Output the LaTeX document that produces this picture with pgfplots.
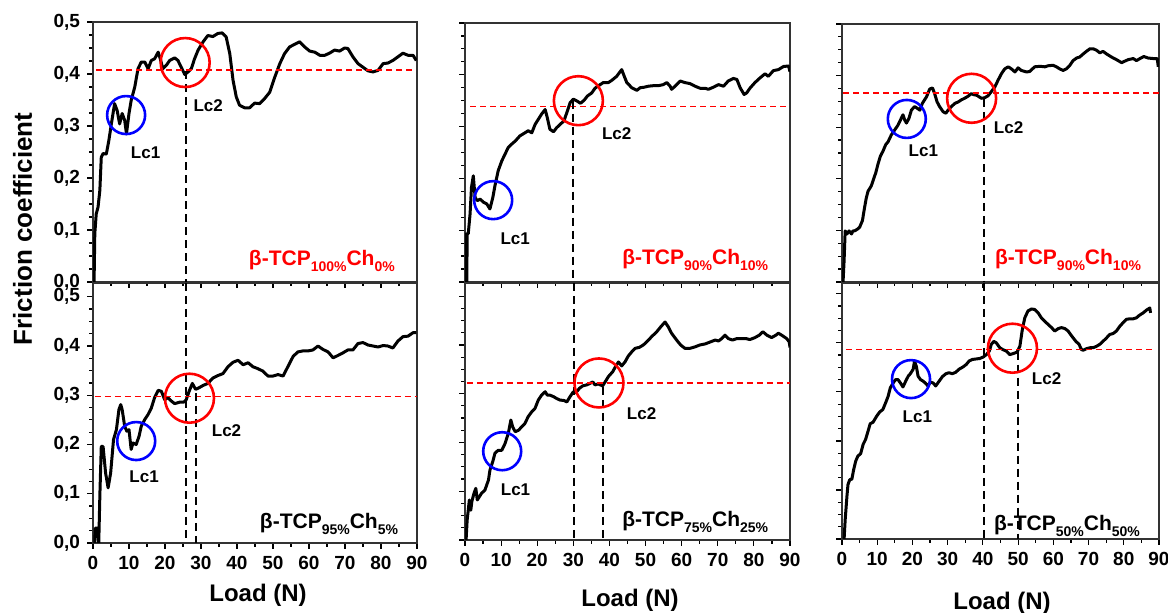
\documentclass[border=0pt]{standalone}
\usepackage{fontspec}
\setmainfont{Liberation Sans}
\usepackage{pgfplots}
\pgfplotsset{compat=1.18}

\newcommand\sub[1]{\raisebox{-3pt}{\fontsize{7}{8}\selectfont\bfseries #1}}

\pgfplotsset{
  panel/.style={
    scale only axis, anchor=south west,
    xmin=0, xmax=90, ymin=0,
    xtick={0,10,...,90}, ytick={0,0.1,0.2,0.3,0.4,0.5},
    minor x tick num=1, minor y tick num=3,
    tick align=outside, xtick pos=left, ytick pos=left,
    major tick length=3pt, minor tick length=1.8pt,
    tick style={black, line width=0.6pt},
    axis line style={black!80, line width=0.7pt},
    ticklabel style={font=\bfseries\fontsize{9.5}{11}\selectfont},
    /pgf/number format/assume math mode=true,
    xticklabels={}, yticklabels={},
  },
  ylab/.style={yticklabels={{0,0},{0,1},{0,2},{0,3},{0,4},{0,5}}},
  xlab/.style={xticklabels={0,10,20,30,40,50,60,70,80,90}},
  curve/.style={black, line width=1.5pt, line join=round},
  refl/.style={red, line width=0.75pt, dash pattern=on 3pt off 2pt},
  lcl/.style={black, line width=1pt, dash pattern=on 4pt off 2.5pt},
  bc/.style={only marks, mark=o, mark size=9.5pt, blue, mark options={line width=1.3pt}},
  rc/.style={only marks, mark=o, mark size=12.25pt, red, mark options={line width=1.3pt}},
}
\tikzset{
  lbl/.style={font=\bfseries\fontsize{8.5}{10}\selectfont},
  leg/.style={anchor=base east, font=\bfseries\fontsize{10.5}{12}\selectfont},
}

\begin{document}
\begin{tikzpicture}
\useasboundingbox (0,0) rectangle (584pt,306.5pt);

% ---------- top left: 100/0
\begin{axis}[panel, ylab, at={(46.5pt,165.5pt)}, width=162pt, height=130pt, ymax=0.5]
\addplot[curve] coordinates {
(0.3,0) (0.5,0.093) (0.9,0.131) (1.4,0.144) (1.9,0.176) (2.3,0.24) (2.8,0.247) (3.7,0.246) (4.4,0.272) (5.1,0.304) (6.0,0.343) (6.7,0.33) (7.4,0.304) (8.1,0.324) (8.8,0.311) (9.3,0.285) (10,0.324) (10.6,0.349) (11.6,0.375) (12.5,0.41) (13.4,0.423) (14.4,0.423) (15.3,0.41) (16.2,0.426) (17.1,0.429) (18.1,0.442) (18.7,0.429) (19.4,0.41) (20.4,0.417) (21.3,0.426) (22.7,0.431) (23.6,0.426) (24.5,0.413) (25.5,0.399) (26.4,0.404) (27.3,0.41) (28.2,0.429) (29.2,0.446) (30.6,0.462) (31.9,0.474) (33.3,0.472) (34.7,0.478) (35.9,0.479) (37,0.471) (38,0.439) (38.9,0.388) (39.8,0.356) (40.7,0.34) (42.1,0.335) (43.5,0.335) (44.9,0.344) (46.3,0.343) (47.7,0.353) (49.1,0.365) (50.5,0.394) (51.9,0.42) (53.2,0.439) (54.6,0.452) (56,0.457) (57.4,0.462) (58.8,0.452) (60.2,0.444) (61.6,0.442) (63,0.436) (64.4,0.436) (65.7,0.44) (67.1,0.446) (68.5,0.444) (69.9,0.45) (70.8,0.449) (72.2,0.433) (73.6,0.42) (75,0.413) (76.4,0.406) (77.8,0.404) (79.2,0.407) (80.6,0.42) (81.9,0.421) (83.3,0.426) (84.7,0.433) (86.1,0.44) (87.5,0.436) (88.9,0.436) (89.8,0.426)
};
\addplot[refl] coordinates {(0.9,0.408) (88.5,0.408)};
\addplot[lcl] coordinates {(25.7,0.405) (25.7,0)};
\addplot[bc] coordinates {(9.2,0.321)};
\addplot[rc] coordinates {(25.6,0.422)};
\node[lbl] at (axis cs:14.6,0.249) {Lc1};
\node[lbl] at (axis cs:32,0.34) {Lc2};
\node[leg, red] at (axis cs:85.8,0.031) {β-TCP\sub{100\%}Ch\sub{0\%}};
\end{axis}

% ---------- bottom left: 95/5
\begin{axis}[panel, ylab, xlab, at={(46.5pt,35pt)}, width=162pt, height=130pt, ymax=0.528]
\addplot[curve] coordinates {
(0.5,0) (0.6,0.03) (1.2,0.03) (1.6,0) (1.9,0.095) (2.3,0.196) (2.8,0.196) (3.5,0.142) (4.2,0.112) (4.9,0.142) (5.7,0.21) (6.5,0.23) (7.2,0.271) (7.7,0.281) (8.1,0.271) (8.8,0.237) (9.4,0.227) (10,0.23) (10.6,0.19) (11.1,0.203) (12,0.2) (12.8,0.217) (13.4,0.237) (14.4,0.251) (15.3,0.261) (16.2,0.274) (17.1,0.295) (18.1,0.31) (19,0.308) (19.9,0.291) (20.8,0.295) (21.8,0.288) (22.7,0.283) (24.1,0.286) (25.2,0.286) (25.9,0.291) (26.7,0.308) (27.6,0.324) (28.5,0.312) (29.4,0.315) (30.6,0.32) (31.9,0.324) (33.3,0.335) (34.7,0.34) (36.1,0.344) (37.5,0.358) (38.9,0.367) (40.3,0.371) (41.7,0.362) (43.1,0.366) (44.4,0.358) (45.8,0.354) (47.2,0.349) (48.6,0.339) (50,0.339) (51.4,0.342) (52.8,0.339) (54.2,0.359) (55.6,0.379) (56.9,0.388) (58.3,0.39) (59.7,0.39) (61.1,0.392) (62.5,0.4) (63.9,0.393) (65.3,0.388) (66.7,0.376) (68.1,0.381) (69.4,0.386) (70.8,0.392) (72.2,0.392) (73.6,0.405) (75,0.407) (76.4,0.402) (77.8,0.4) (79.2,0.398) (80.6,0.401) (81.9,0.4) (83.3,0.396) (84.7,0.41) (86.1,0.419) (87.5,0.42) (88.9,0.427) (89.8,0.427)
};
\addplot[refl] coordinates {(0.5,0.297) (90,0.297)};
\addplot[lcl] coordinates {(25.7,0.528) (25.7,0)};
\addplot[lcl] coordinates {(28.6,0.305) (28.6,0)};
\addplot[bc] coordinates {(12.0,0.207)};
\addplot[rc] coordinates {(26.8,0.294)};
\node[lbl] at (axis cs:14.2,0.135) {Lc1};
\node[lbl] at (axis cs:37.1,0.228) {Lc2};
\node[leg] at (axis cs:86.7,0.03) {β-TCP\sub{95\%}Ch\sub{5\%}};
\end{axis}

% ---------- top middle: 90/10
\begin{axis}[panel, at={(232.5pt,165.5pt)}, width=162.5pt, height=129.5pt, ymax=0.5]
\addplot[curve] coordinates {
(0.2,0) (0.3,0.093) (0.5,0) (0.6,0.093) (0.9,0.093) (1.4,0.131) (1.8,0.183) (2.3,0.205) (2.8,0.163) (3.4,0.157) (4.2,0.16) (5.1,0.154) (6.0,0.151) (6.9,0.141) (7.7,0.163) (8.3,0.186) (9.2,0.215) (10.2,0.234) (11.1,0.247) (12.0,0.26) (12.9,0.266) (13.9,0.272) (15.2,0.282) (16.6,0.288) (17.5,0.292) (18.5,0.288) (19.4,0.304) (20.3,0.314) (21.2,0.324) (22.2,0.333) (22.8,0.317) (23.5,0.295) (24.5,0.29) (25.4,0.298) (26.3,0.304) (27.4,0.311) (28.2,0.327) (29.1,0.346) (30.0,0.353) (31.1,0.349) (32.0,0.345) (33.0,0.351) (33.9,0.359) (35.1,0.365) (36.0,0.374) (37.2,0.38) (38.3,0.385) (39.7,0.385) (40.6,0.389) (42.0,0.397) (43.4,0.41) (44.0,0.399) (44.8,0.385) (46.2,0.375) (47.6,0.37) (48.5,0.375) (49.6,0.376) (50.8,0.378) (52.2,0.379) (53.6,0.379) (54.9,0.381) (55.9,0.385) (56.8,0.378) (57.2,0.372) (58.2,0.378) (59.6,0.388) (60.9,0.385) (62.3,0.383) (63.7,0.378) (65.1,0.374) (66.5,0.374) (67.4,0.372) (68.8,0.376) (70.2,0.381) (71.6,0.378) (72.9,0.388) (74.3,0.393) (75.3,0.391) (76.2,0.375) (77.3,0.362) (78.0,0.365) (78.9,0.374) (80.3,0.385) (81.7,0.394) (83.1,0.402) (84.0,0.397) (85.4,0.408) (86.8,0.41) (88.2,0.416) (89.6,0.417) (90,0.406)
};
\addplot[refl] coordinates {(1.4,0.339) (89.6,0.339)};
\addplot[lcl] coordinates {(30.0,0.35) (30.0,0)};
\addplot[bc] coordinates {(7.8,0.158)};
\addplot[rc] coordinates {(31.4,0.35)};
\node[lbl] at (axis cs:13.9,0.084) {Lc1};
\node[lbl] at (axis cs:42,0.287) {Lc2};
\node[leg, red] at (axis cs:85.9,0.033) {β-TCP\sub{90\%}Ch\sub{10\%}};
\end{axis}

% ---------- bottom middle: 75/25
\begin{axis}[panel, xlab, at={(232.5pt,36.5pt)}, width=162.5pt, height=128.5pt, ymax=0.527]
\addplot[curve] coordinates {
(0.3,0) (0.6,0.041) (0.9,0.061) (1.2,0.082) (1.6,0.061) (1.9,0.079) (2.5,0.096) (3.0,0.106) (3.4,0.082) (4.0,0.089) (4.6,0.096) (5.5,0.102) (6.5,0.123) (6.9,0.143) (7.7,0.161) (8.3,0.178) (9.2,0.184) (10.2,0.184) (11.1,0.198) (12.0,0.219) (12.7,0.246) (13.2,0.232) (13.9,0.222) (14.8,0.225) (15.7,0.232) (16.6,0.239) (17.5,0.253) (18.5,0.263) (19.4,0.27) (20.3,0.287) (21.2,0.297) (22.2,0.304) (22.8,0.297) (23.5,0.297) (24.5,0.294) (25.4,0.29) (26.3,0.287) (27.4,0.286) (28.2,0.283) (29.1,0.294) (30.0,0.304) (30.7,0.302) (31.7,0.311) (32.6,0.316) (33.7,0.318) (34.6,0.321) (35.4,0.324) (36.0,0.318) (36.9,0.32) (38.1,0.316) (38.8,0.324) (39.7,0.335) (40.9,0.345) (41.8,0.357) (42.5,0.365) (43.4,0.357) (44.3,0.365) (45.2,0.377) (46.2,0.386) (47.1,0.393) (48.3,0.395) (49.4,0.4) (50.3,0.406) (51.7,0.417) (53.1,0.427) (54.2,0.437) (55.4,0.447) (56.3,0.437) (57.2,0.424) (58.6,0.41) (59.7,0.4) (60.9,0.393) (62.3,0.393) (63.7,0.396) (65.1,0.4) (66.5,0.402) (67.9,0.406) (69.3,0.41) (70.2,0.408) (71.1,0.413) (72.0,0.42) (72.9,0.413) (74.1,0.41) (75.3,0.413) (76.6,0.413) (77.8,0.413) (78.9,0.411) (80.3,0.415) (81.5,0.42) (82.5,0.427) (83.6,0.42) (84.9,0.415) (86.1,0.42) (86.8,0.424) (87.7,0.42) (89.1,0.413) (89.8,0.406) (90,0.395)
};
\addplot[refl] coordinates {(0.5,0.322) (90,0.322)};
\addplot[lcl] coordinates {(30.3,0.527) (30.3,0)};
\addplot[lcl] coordinates {(38.3,0.314) (38.3,0)};
\addplot[bc] coordinates {(10.3,0.182)};
\addplot[rc] coordinates {(37.1,0.322)};
\node[lbl] at (axis cs:14,0.104) {Lc1};
\node[lbl] at (axis cs:48.9,0.26) {Lc2};
\node[leg] at (axis cs:85.9,0.027) {β-TCP\sub{75\%}Ch\sub{25\%}};
\end{axis}

% ---------- top right: 90/10
\begin{axis}[panel, at={(421pt,165.5pt)}, width=158.5pt, height=129pt, ymax=0.5]
\addplot[curve] coordinates {
(0.3,0) (0.6,0.042) (0.9,0.099) (1.4,0.093) (2.0,0.099) (2.7,0.093) (3.1,0.099) (3.6,0.099) (4.5,0.103) (5.0,0.106) (5.8,0.119) (6.4,0.144) (6.9,0.163) (7.4,0.176) (8.3,0.186) (8.8,0.196) (9.6,0.212) (10.2,0.228) (10.9,0.244) (11.6,0.253) (12.4,0.266) (13.1,0.272) (14.0,0.285) (15.0,0.295) (15.9,0.304) (16.6,0.314) (17.3,0.324) (17.8,0.314) (18.3,0.308) (19.0,0.317) (19.7,0.333) (20.6,0.34) (21.3,0.337) (22.1,0.333) (22.8,0.346) (24.0,0.359) (24.9,0.374) (25.7,0.376) (26.3,0.365) (27.0,0.349) (27.7,0.34) (28.7,0.33) (29.5,0.327) (30.1,0.333) (31.1,0.34) (32.0,0.346) (33.0,0.349) (33.9,0.353) (34.8,0.356) (35.8,0.36) (36.7,0.365) (37.4,0.363) (38.2,0.362) (38.9,0.359) (39.6,0.356) (40.5,0.357) (41.5,0.361) (42.4,0.369) (43.4,0.378) (44.3,0.391) (45.3,0.404) (46.2,0.413) (47.2,0.417) (48.1,0.413) (49.1,0.407) (50.0,0.415) (50.9,0.41) (52.4,0.407) (53.3,0.408) (54.7,0.417) (56.2,0.418) (57.6,0.417) (58.5,0.419) (59.9,0.42) (60.9,0.417) (61.8,0.413) (62.8,0.41) (63.7,0.413) (64.7,0.42) (65.6,0.429) (66.6,0.434) (67.5,0.436) (68.5,0.442) (69.4,0.447) (70.4,0.452) (71.3,0.452) (72.3,0.449) (73.2,0.444) (74.1,0.447) (75.1,0.442) (76.5,0.436) (77.9,0.431) (79.4,0.425) (80.3,0.428) (81.3,0.431) (82.7,0.433) (83.6,0.429) (84.6,0.433) (85.7,0.437) (86.9,0.434) (88.4,0.433) (89.5,0.433) (89.8,0.417)
};
\addplot[refl] coordinates {(0.3,0.366) (90,0.366)};
\addplot[lcl] coordinates {(40.3,0.355) (40.3,0)};
\addplot[bc] coordinates {(18.4,0.316)};
\addplot[rc] coordinates {(36.8,0.356)};
\node[lbl] at (axis cs:23.1,0.254) {Lc1};
\node[lbl] at (axis cs:47.3,0.3) {Lc2};
\node[leg, red] at (axis cs:86.9,0.033) {β-TCP\sub{90\%}Ch\sub{10\%}};
\end{axis}

% ---------- bottom right: 50/50
\begin{axis}[panel, xlab, at={(421pt,37pt)}, width=158.5pt, height=128pt, ymax=0.522]
\addplot[curve] coordinates {
(0.6,0) (0.9,0.039) (1.4,0.087) (1.7,0.111) (2.2,0.121) (2.8,0.122) (3.3,0.141) (3.9,0.159) (4.5,0.169) (5.3,0.174) (6.0,0.193) (6.7,0.203) (7.4,0.22) (8.0,0.235) (8.8,0.238) (9.8,0.25) (10.7,0.259) (11.6,0.264) (12.4,0.278) (13.1,0.291) (13.7,0.308) (14.5,0.318) (15.2,0.325) (15.9,0.325) (16.6,0.318) (17.3,0.31) (18.1,0.322) (18.8,0.332) (19.4,0.337) (20.2,0.346) (20.6,0.363) (21.1,0.352) (21.6,0.332) (22.3,0.325) (23.0,0.322) (23.8,0.317) (24.4,0.312) (25.1,0.32) (25.9,0.318) (26.6,0.312) (27.6,0.322) (28.5,0.331) (29.5,0.337) (30.4,0.339) (31.3,0.337) (32.3,0.34) (33.2,0.346) (34.4,0.351) (35.3,0.356) (36.1,0.363) (37.0,0.366) (38.0,0.367) (39.1,0.368) (40.1,0.371) (41.0,0.376) (41.8,0.383) (42.4,0.397) (43.1,0.403) (43.8,0.4) (44.8,0.39) (45.7,0.386) (46.7,0.383) (47.6,0.376) (48.6,0.378) (49.7,0.381) (50.5,0.393) (51.2,0.427) (51.9,0.451) (52.8,0.465) (53.8,0.469) (54.7,0.468) (55.7,0.461) (56.6,0.451) (58.0,0.441) (59.5,0.431) (60.4,0.424) (61.4,0.429) (62.3,0.431) (63.3,0.429) (64.2,0.424) (65.2,0.414) (66.4,0.403) (67.3,0.397) (68.0,0.386) (68.5,0.385) (69.4,0.388) (70.4,0.39) (71.3,0.39) (72.3,0.393) (73.2,0.397) (74.1,0.403) (75.1,0.41) (76.0,0.417) (77.0,0.419) (77.9,0.424) (78.9,0.434) (79.8,0.441) (80.8,0.448) (81.7,0.449) (82.7,0.449) (83.6,0.451) (84.4,0.456) (85.5,0.461) (86.5,0.467) (87.4,0.471) (87.6,0.461)
};
\addplot[refl] coordinates {(1.2,0.386) (87.9,0.386)};
\addplot[lcl] coordinates {(40.3,0.522) (40.3,0)};
\addplot[lcl] coordinates {(50.1,0.382) (50.1,0)};
\addplot[bc] coordinates {(19.6,0.326)};
\addplot[rc] coordinates {(48.4,0.389)};
\node[lbl] at (axis cs:21.4,0.25) {Lc1};
\node[lbl] at (axis cs:58.1,0.326) {Lc2};
\node[leg] at (axis cs:86.6,0.018) {β-TCP\sub{50\%}Ch\sub{50\%}};
\end{axis}

% axis titles
\node[rotate=90, font=\bfseries\fontsize{13}{15}\selectfont] at (11.25pt,192pt) {Friction coefficient};
\node[font=\bfseries\fontsize{12}{14}\selectfont] at (129pt,9pt) {Load (N)};
\node[font=\bfseries\fontsize{12}{14}\selectfont] at (315pt,6.5pt) {Load (N)};
\node[font=\bfseries\fontsize{12}{14}\selectfont] at (501pt,5pt) {Load (N)};
\end{tikzpicture}
\end{document}
